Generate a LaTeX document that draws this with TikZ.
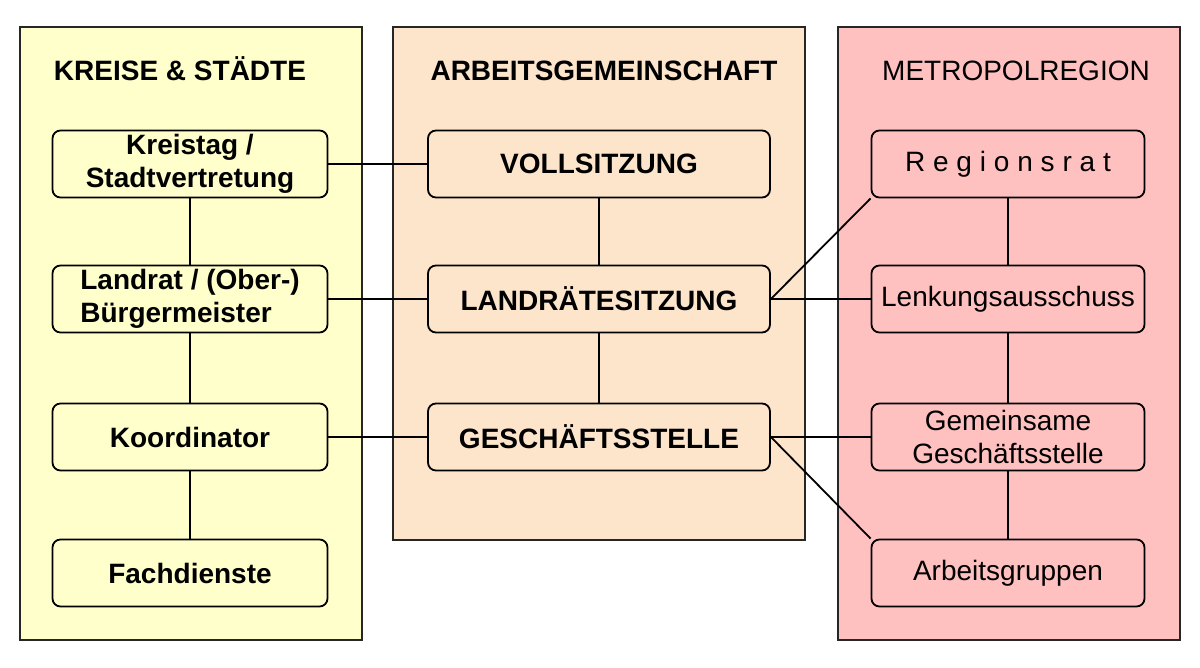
\documentclass[tikz,border=0pt]{standalone}
\usepackage{fontspec}
\setmainfont{Liberation Sans}
\newfontfamily\spacedfont[LetterSpace=28]{Liberation Sans}
\definecolor{kreisfill}{HTML}{FFFFCC}
\definecolor{argefill}{HTML}{FDE5CC}
\definecolor{metrofill}{HTML}{FFC0C0}
\tikzset{
    panel/.style={rectangle, draw=black!85, line width=1.8pt, inner sep=0pt},
    title/.style={inner sep=0pt, anchor=base, font={\fontsize{28}{33}\selectfont}},
    box/.style={rectangle, draw, rounded corners=8pt, line width=1.8pt, inner sep=0pt,
        minimum height=67pt, align=center, font={\fontsize{28}{33}\selectfont}},
    kbox/.style={box, fill=kreisfill, minimum width=275pt, font={\fontsize{28}{33}\selectfont\bfseries}},
    abox/.style={box, fill=argefill, minimum width=342pt, font={\fontsize{28}{33}\selectfont\bfseries}},
    mbox/.style={box, fill=metrofill, minimum width=273pt},
    every edge/.append style={line width=1.8pt}
}

\begin{document}
\begin{tikzpicture}[x=1pt, y=-1pt, line width=1.8pt]
    \useasboundingbox (0,0) rectangle (1200,668);
    % the three columns
    \node (kreise) [panel, fill=kreisfill, minimum width=342pt, minimum height=613pt] at (191,333.5) {};
    \node (arge) [panel, fill=argefill, minimum width=412pt, minimum height=513pt] at (599,283.5) {};
    \node (metro) [panel, fill=metrofill, minimum width=342pt, minimum height=613pt] at (1009,333.5) {};

    \node (tk) [title, font={\fontsize{28}{33}\selectfont\bfseries}] at (180,81) {KREISE \& STÄDTE};
    \node (ta) [title, font={\fontsize{28}{33}\selectfont\bfseries}] at (604,81) {ARBEITSGEMEINSCHAFT};
    \node (tm) [title] at (1016,81) {METROPOLREGION};

    \node (k1) [kbox] at (190,164) {Kreistag /\\Stadtvertretung};
    \node (k2) [kbox, align=left] at (190,299) {Landrat / (Ober-)\\Bürgermeister};
    \node (k3) [kbox] at (190,437) {Koordinator};
    \node (k4) [kbox] at (190,573) {Fachdienste};

    \node (a1) [abox] at (599,164) {VOLLSITZUNG};
    \node (a2) [abox] at (599,299) {LANDRÄTESITZUNG};
    \node (a3) [abox] at (599,437) {GESCHÄFTSSTELLE};

    \node (m1) [mbox] at (1008,164) {\spacedfont Regionsrat};
    \node (m2) [mbox] at (1008,299) {Lenkungsausschuss};
    \node (m3) [mbox] at (1008,437) {Gemeinsame\\Geschäftsstelle};
    \node (m4) [mbox] at (1008,573) {Arbeitsgruppen};

    \draw (k1) edge (k2);
    \draw (k2) edge (k3);
    \draw (k3) edge (k4);
    \draw (a1) edge (a2);
    \draw (a2) edge (a3);
    \draw (m1) edge (m2);
    \draw (m2) edge (m3);
    \draw (m3) edge (m4);

    \draw (k1) edge (a1);
    \draw (k2) edge (a2);
    \draw (k3) edge (a3);
    \draw (a2) edge (m2);
    \draw (a3) edge (m3);
    \draw (a2.east) edge (m1.south west);
    \draw (a3.east) edge (m4.north west);
\end{tikzpicture}
\end{document}
